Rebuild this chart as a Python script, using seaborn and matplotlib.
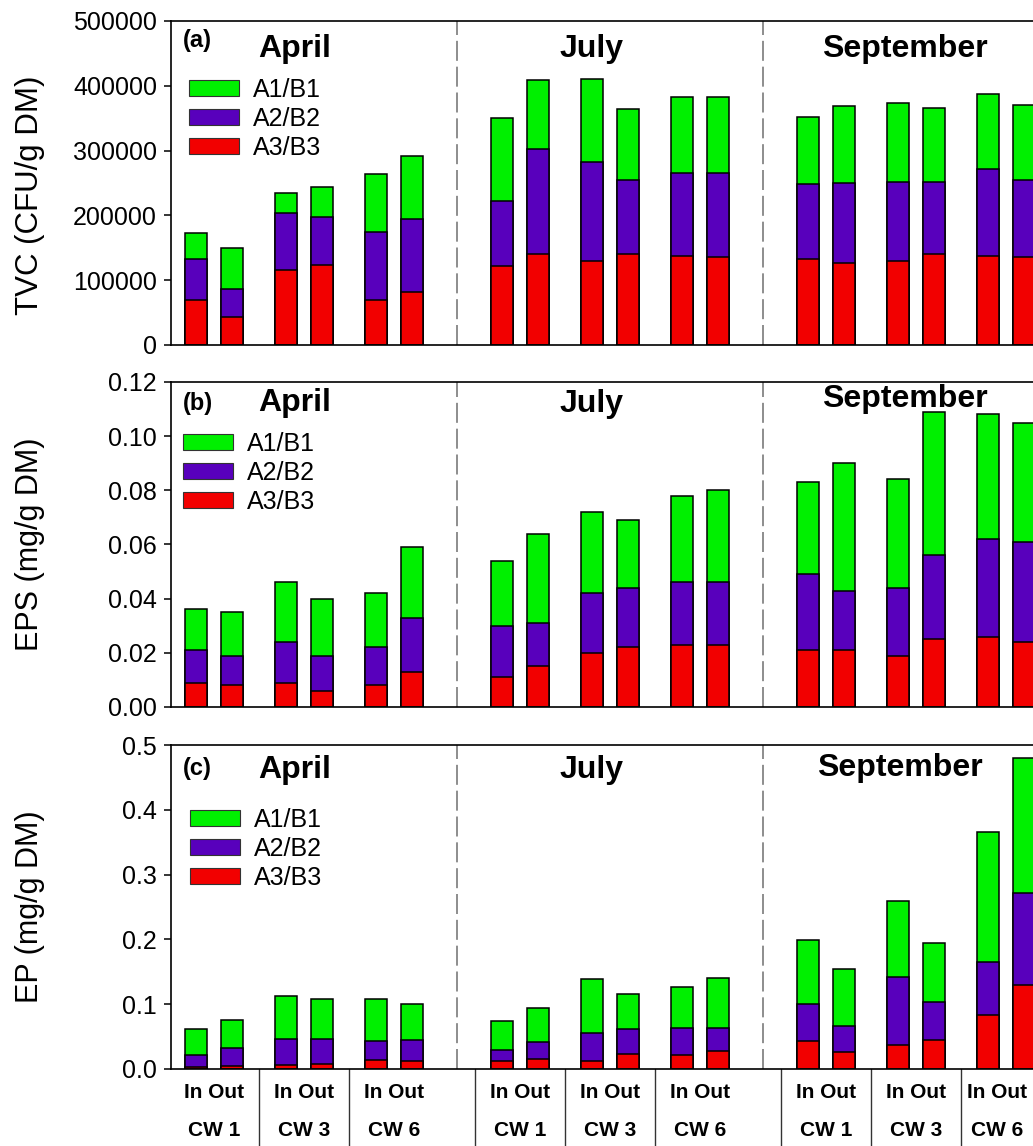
import numpy as np
import pandas as pd
import matplotlib
matplotlib.use("Agg")
import matplotlib.pyplot as plt
import seaborn as sns
from matplotlib.patches import Patch
from matplotlib.transforms import blended_transform_factory

# ---------------- data ----------------
months = ["April", "July", "September"]
wetlands = ["CW 1", "CW 3", "CW 6"]
sides = ["In", "Out"]
layer_names = ["A1/B1", "A2/B2", "A3/B3"]

# order: April(CW1 In, CW1 Out, CW3 In, CW3 Out, CW6 In, CW6 Out), July(...), September(...)
tvc_a3 = [69000, 43000, 116000, 123000, 69000, 81000,
          122000, 141000, 130000, 140000, 137000, 136000,
          132000, 126000, 129000, 140000, 137000, 136000]
tvc_a2 = [64000, 44000, 87000, 74000, 105000, 113000,
          100000, 161000, 152000, 115000, 128000, 130000,
          117000, 124000, 122000, 111000, 134000, 119000]
tvc_a1 = [40000, 62000, 31000, 47000, 90000, 97000,
          129000, 107000, 129000, 109000, 118000, 117000,
          103000, 119000, 123000, 115000, 117000, 116000]

eps_a3 = [0.009, 0.008, 0.009, 0.006, 0.008, 0.013,
          0.011, 0.015, 0.020, 0.022, 0.023, 0.023,
          0.021, 0.021, 0.019, 0.025, 0.026, 0.024]
eps_a2 = [0.012, 0.011, 0.015, 0.013, 0.014, 0.020,
          0.019, 0.016, 0.022, 0.022, 0.023, 0.023,
          0.028, 0.022, 0.025, 0.031, 0.036, 0.037]
eps_a1 = [0.015, 0.016, 0.022, 0.021, 0.020, 0.026,
          0.024, 0.033, 0.030, 0.025, 0.032, 0.034,
          0.034, 0.047, 0.040, 0.053, 0.046, 0.044]

ep_a3 = [0.003, 0.005, 0.006, 0.008, 0.014, 0.012,
         0.013, 0.015, 0.013, 0.023, 0.022, 0.027,
         0.043, 0.026, 0.037, 0.044, 0.083, 0.130]
ep_a2 = [0.018, 0.027, 0.041, 0.038, 0.029, 0.032,
         0.016, 0.027, 0.042, 0.039, 0.041, 0.036,
         0.058, 0.041, 0.105, 0.059, 0.082, 0.142]
ep_a1 = [0.041, 0.043, 0.066, 0.062, 0.065, 0.057,
         0.045, 0.052, 0.084, 0.053, 0.063, 0.077,
         0.098, 0.087, 0.118, 0.091, 0.200, 0.208]

tvc_ticks = [0, 100000, 200000, 300000, 400000, 500000]
eps_ticks = [0.00, 0.02, 0.04, 0.06, 0.08, 0.10, 0.12]
ep_ticks = [0.0, 0.1, 0.2, 0.3, 0.4, 0.5]

panel_tags = ["(a)", "(b)", "(c)"]
ylabels = ["TVC (CFU/g DM)", "EPS (mg/g DM)", "EP (mg/g DM)"]

# ---------------- style ----------------
sns.set_theme(style="white")
plt.rcParams["font.family"] = ["Liberation Sans", "DejaVu Sans"]
plt.rcParams["text.color"] = "black"
plt.rcParams["axes.labelcolor"] = "black"
plt.rcParams["xtick.color"] = "black"
plt.rcParams["ytick.color"] = "black"

GREEN = "#00f000"
PURPLE = "#5800bc"
RED = "#f20000"

# layout positions (bar slots)
MONTH_STEP, CW_STEP = 8.5, 2.5
pos = [m * MONTH_STEP + c * CW_STEP + k
       for m in range(3) for c in range(3) for k in range(2)]

fig = plt.figure(figsize=(10.33, 11.46), dpi=100)
L = 171 / 1033
W = 889 / 1033
rects = [(L, 0.6990, W, 0.2827), (L, 0.3831, W, 0.2836), (L, 0.0672, W, 0.2827)]
axes = [fig.add_axes(r) for r in rects]

panels = [
    (tvc_a3, tvc_a2, tvc_a1, tvc_ticks, [f"{t:d}" for t in tvc_ticks]),
    (eps_a3, eps_a2, eps_a1, eps_ticks, [f"{t:.2f}" for t in eps_ticks]),
    (ep_a3, ep_a2, ep_a1, ep_ticks, [f"{t:.1f}" for t in ep_ticks]),
]

legend_anchor = [(0.020, 0.824), (0.0135, 0.846), (0.021, 0.806)]
tag_y = [0.921, 0.914, 0.907]
title_y = [[0.888, 0.888, 0.888], [0.911, 0.908, 0.923], [0.898, 0.898, 0.904]]
title_x = [[2.75, 11.0, 19.7], [2.75, 11.0, 19.7], [2.75, 11.0, 19.55]]
ylab_y = [0.830, 0.525, 0.2086]
ylab_size = [22.5, 22, 22]

for i, (ax, (a3, a2, a1, ticks, ticklabels)) in enumerate(zip(axes, panels)):
    df = pd.DataFrame({"pos": pos, "A3/B3": a3, "A2/B2": a2, "A1/B1": a1})
    stack = np.cumsum(df[["A3/B3", "A2/B2", "A1/B1"]].to_numpy(), axis=1)
    df["top_red"] = stack[:, 0]
    df["top_purple"] = stack[:, 1]
    df["top_green"] = stack[:, 2]
    for col, colr in [("top_green", GREEN), ("top_purple", PURPLE), ("top_red", RED)]:
        sns.barplot(data=df, x="pos", y=col, native_scale=True, width=0.61,
                    color=colr, saturation=1, edgecolor="black", linewidth=1.1,
                    errorbar=None, ax=ax)
    ax.set_xlabel("")
    ax.set_ylabel("")
    ax.set_xlim(-0.694, 24.0)
    ax.set_ylim(ticks[0], ticks[-1])
    ax.set_xticks([])
    ax.set_yticks(ticks)
    ax.set_yticklabels(ticklabels, fontsize=18, color="black")
    ax.tick_params(axis="y", direction="out", length=5, width=1.1, pad=5,
                   left=True, colors="black")
    for s in ["top", "left", "bottom"]:
        ax.spines[s].set_visible(True)
        ax.spines[s].set_color("black")
        ax.spines[s].set_linewidth(1.2)
    ax.spines["right"].set_visible(False)

    # month separators
    for xb in [7.25, 15.75]:
        ax.axvline(xb, color="#7a7a7a", lw=1.2, linestyle=(0, (12, 3.5)), zorder=0)

    # texts
    ax.text(0.013, tag_y[i], panel_tags[i], transform=ax.transAxes,
            fontsize=17, fontweight="bold", ha="left", va="baseline", color="black")
    tr = blended_transform_factory(ax.transData, ax.transAxes)
    for mname, tx, ty in zip(months, title_x[i], title_y[i]):
        ax.text(tx, ty, mname, transform=tr, fontsize=23, fontweight="bold",
                ha="center", va="baseline", color="black")

    handles = [Patch(facecolor=GREEN, edgecolor="#333333", linewidth=0.8),
               Patch(facecolor=PURPLE, edgecolor="#333333", linewidth=0.8),
               Patch(facecolor=RED, edgecolor="#333333", linewidth=0.8)]
    leg = ax.legend(handles, layer_names, loc="upper left",
                    bbox_to_anchor=legend_anchor[i], bbox_transform=ax.transAxes,
                    frameon=False, fontsize=18, handlelength=2.0, handleheight=0.6,
                    handletextpad=0.56, labelspacing=0.2, borderaxespad=0, borderpad=0)
    for t in leg.get_texts():
        t.set_color("black")

    fig.text(30 / 1033, ylab_y[i], ylabels[i], rotation=90, fontsize=ylab_size[i],
             ha="center", va="center", color="black")

# category labels under the bottom panel
axc = axes[2]
trf = blended_transform_factory(axc.transData, fig.transFigure)
for m in range(3):
    for c in range(3):
        xc = m * MONTH_STEP + c * CW_STEP + 0.5
        if m == 2 and c == 2:
            xc -= 0.25  # keep the last label inside the image, as in the original
        axc.text(xc, 1 - 1093 / 1146, " ".join(sides), transform=trf,
                 fontsize=15, fontweight="bold", ha="center", va="center", color="black")
        axc.text(xc, 1 - 1131 / 1146, wetlands[c], transform=trf,
                 fontsize=15, fontweight="bold", ha="center", va="center", color="black")

base_y = 1 - 1069 / 1146
for m in range(3):
    for c in range(3):
        if m == 0 and c == 0:
            continue
        xb = m * MONTH_STEP + c * CW_STEP - 0.75
        axc.plot([xb, xb], [base_y, 0], transform=trf, color="#333333",
                 lw=1.0, clip_on=False)

fig.savefig("out.png", dpi=100)
